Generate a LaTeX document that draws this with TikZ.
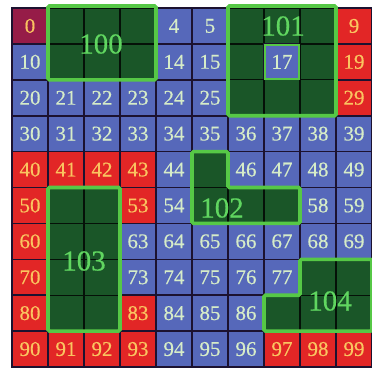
\documentclass[tikz,border=0pt]{standalone}
\usepackage{fontspec}
\setmainfont[FakeBold=0.4]{Liberation Serif}
\definecolor{cblue}{RGB}{86,104,186}
\definecolor{cred}{RGB}{226,38,38}
\definecolor{cdred}{RGB}{150,28,72}
\definecolor{cgreen}{RGB}{26,86,40}
\definecolor{cgline}{RGB}{86,200,70}
\definecolor{tblue}{RGB}{214,236,200}
\definecolor{tred}{RGB}{250,196,96}
\definecolor{tgreen}{RGB}{96,214,96}
\definecolor{gridc}{RGB}{28,18,48}
\begin{document}
\begin{tikzpicture}[x=1pt,y=-1pt,
  cellbase/.style={rectangle,minimum width=36pt,minimum height=35.9pt,inner sep=0pt,
    draw=gridc,line width=1.6pt,font=\fontsize{21}{21}\selectfont},
  cellb/.style={cellbase,fill=cblue,text=tblue},
  cellr/.style={cellbase,fill=cred,text=tred},
  celld/.style={cellbase,fill=cdred,text=tred},
  cellg/.style={fill=cgreen,draw=black!80!cgreen,line width=1.2pt},
  gborder/.style={draw=cgline,line width=3.6pt,rounded corners=1.5pt},
  glabel/.style={text=tgreen,font=\fontsize{29}{29}\selectfont,inner sep=0pt}]
\useasboundingbox (0,0) rectangle (372,367);
\fill[white] (0,0) rectangle (372,367);
% kind of each cell: 0 blue, 1 red, 2 merged (green), 3 dark red
\def\kinds{{3,2,2,2,0,0,2,2,2,1,
            0,2,2,2,0,0,2,0,2,1,
            0,0,0,0,0,0,2,2,2,1,
            0,0,0,0,0,0,0,0,0,0,
            1,1,1,1,0,2,0,0,0,0,
            1,2,2,1,0,2,2,2,0,0,
            1,2,2,0,0,0,0,0,0,0,
            1,2,2,0,0,0,0,0,2,2,
            1,2,2,1,0,0,0,2,2,2,
            1,1,1,1,0,0,0,1,1,1}}
\foreach \n in {0,...,99}{
  \pgfmathtruncatemacro\r{int(\n/10)}
  \pgfmathtruncatemacro\c{mod(\n,10)}
  \pgfmathtruncatemacro\k{\kinds[\n]}
  \ifcase\k
    \node[cellb] (c\n) at ({12+(\c+0.5)*36},{8+(\r+0.5)*35.9}) {\n};
  \or
    \node[cellr] (c\n) at ({12+(\c+0.5)*36},{8+(\r+0.5)*35.9}) {\n};
  \or
    \filldraw[cellg] ({12+\c*36},{8+\r*35.9}) rectangle ({12+(\c+1)*36},{8+(\r+1)*35.9});
  \or
    \node[celld] (c\n) at ({12+(\c+0.5)*36},{8+(\r+0.5)*35.9}) {\n};
  \fi
}
% coordinates for region borders
\def\X#1{12+#1*36}
\def\Y#1{8+#1*35.9}
% region 100
\draw[gborder] ({\X{1}},6) rectangle ({\X{4}},{\Y{2}});
% region 101
\draw[gborder] ({\X{6}},6) rectangle ({\X{9}},{\Y{3}});
\draw[draw=cgline,line width=2.4pt] ({\X{7}+1},{\Y{1}+1}) rectangle ({\X{8}-1},{\Y{2}-1});
% region 102
\draw[gborder] ({\X{5}},{\Y{4}}) -- ({\X{6}},{\Y{4}}) -- ({\X{6}},{\Y{5}}) -- ({\X{8}},{\Y{5}})
  -- ({\X{8}},{\Y{6}}) -- ({\X{5}},{\Y{6}}) -- cycle;
% region 103
\draw[gborder] ({\X{1}},{\Y{5}}) rectangle ({\X{3}},{\Y{9}});
% region 104
\draw[gborder] ({\X{8}},{\Y{7}}) -- ({\X{10}},{\Y{7}}) -- ({\X{10}},{\Y{9}}) -- ({\X{7}},{\Y{9}})
  -- ({\X{7}},{\Y{8}}) -- ({\X{8}},{\Y{8}}) -- cycle;
% labels
\node[glabel] (l100) at (101,44) {100};
\node[glabel] (l101) at (283,26) {101};
\node[glabel] (l102) at (222,208) {102};
\node[glabel] (l103) at (84,261) {103};
\node[glabel] (l104) at (330,301) {104};
\end{tikzpicture}
\end{document}
